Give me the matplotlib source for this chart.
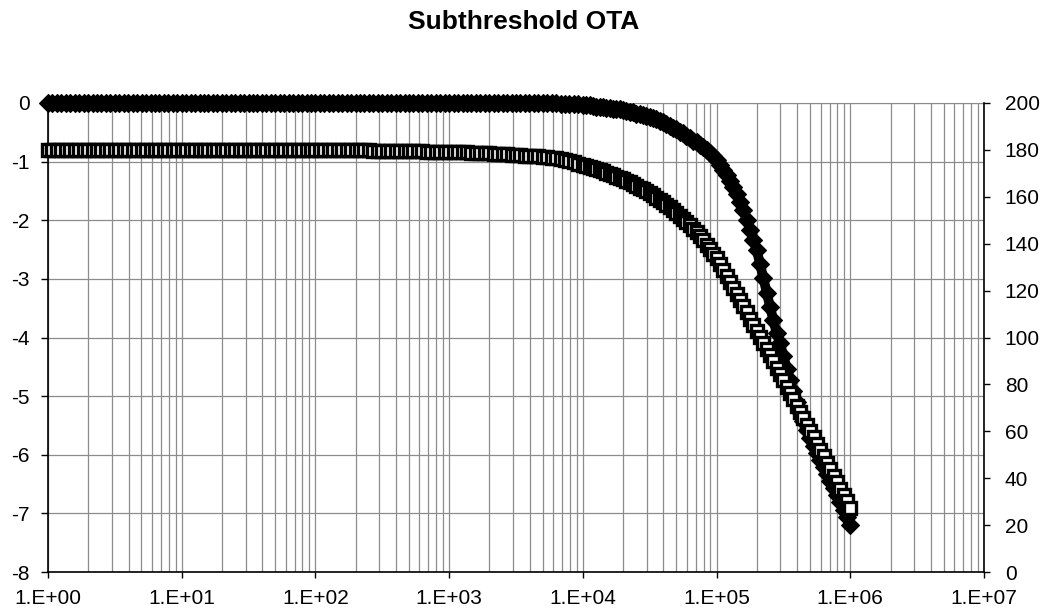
import matplotlib
matplotlib.use("Agg")
import matplotlib.pyplot as plt
from matplotlib.ticker import LogLocator, NullFormatter, FixedLocator, FixedFormatter

plt.rcParams["font.family"] = ["Liberation Sans", "DejaVu Sans"]

# frequency points (Hz)
freq = [
    1.000, 1.080, 1.166, 1.259, 1.359, 1.468, 1.585, 1.711, 1.848, 1.995,
    2.154, 2.326, 2.512, 2.712, 2.929, 3.162, 3.415, 3.687, 3.981, 4.299,
    4.642, 5.012, 5.412, 5.843, 6.310, 6.813, 7.356, 7.943, 8.577, 9.261,
    10.00, 10.80, 11.66, 12.59, 13.59, 14.68, 15.85, 17.11, 18.48, 19.95,
    21.54, 23.26, 25.12, 27.12, 29.29, 31.62, 34.15, 36.87, 39.81, 42.99,
    46.42, 50.12, 54.12, 58.43, 63.10, 68.13, 73.56, 79.43, 85.77, 92.61,
    100.0, 108.0, 116.6, 125.9, 135.9, 146.8, 158.5, 171.1, 184.8, 199.5,
    215.4, 232.6, 251.2, 271.2, 292.9, 316.2, 341.5, 368.7, 398.1, 429.9,
    464.2, 501.2, 541.2, 584.3, 631.0, 681.3, 735.6, 794.3, 857.7, 926.1,
    1000, 1080, 1166, 1259, 1359, 1468, 1585, 1711, 1848, 1995,
    2154, 2326, 2512, 2712, 2929, 3162, 3415, 3687, 3981, 4299,
    4642, 5012, 5412, 5843, 6310, 6813, 7356, 7943, 8577, 9261,
    10000, 10590, 11220, 11890, 12590, 13340, 14130, 14960, 15850, 16790,
    17780, 18840, 19950, 21130, 22390, 23710, 25120, 26610, 28180, 29850,
    31620, 33500, 35480, 37580, 39810, 42170, 44670, 47320, 50120, 53090,
    56230, 59570, 63100, 66830, 70790, 74990, 79430, 84140, 89130, 94410,
    100000, 105900, 112200, 118900, 125900, 133400, 141300, 149600, 158500, 167900,
    177800, 188400, 199500, 211300, 223900, 237100, 251200, 266100, 281800, 298500,
    316200, 335000, 354800, 375800, 398100, 421700, 446700, 473200, 501200, 530900,
    562300, 595700, 631000, 668300, 707900, 749900, 794300, 841400, 891300, 944100,
    1000000,
]

# left axis series (filled diamonds)
gain = [
    0.0, 0.0, 0.0, 0.0, 0.0, 0.0, 0.0, 0.0, 0.0, 0.0,
    0.0, 0.0, 0.0, 0.0, 0.0, 0.0, 0.0, 0.0, 0.0, 0.0,
    0.0, 0.0, 0.0, 0.0, 0.0, 0.0, 0.0, 0.0, 0.0, 0.0,
    0.0, 0.0, 0.0, 0.0, 0.0, 0.0, 0.0, 0.0, 0.0, 0.0,
    0.0, 0.0, 0.0, 0.0, 0.0, 0.0, 0.0, 0.0, 0.0, 0.0,
    0.0, 0.0, 0.0, 0.0, 0.0, 0.0, 0.0, 0.0, 0.0, 0.0,
    0.0, 0.0, 0.0, 0.0, 0.0, 0.0, 0.0, 0.0, 0.0, 0.0,
    0.0, 0.0, 0.0, 0.0, 0.0, 0.0, 0.0, 0.0, 0.0, 0.0,
    0.0, 0.0, 0.0, 0.0, 0.0, 0.0, 0.0, 0.0, 0.0, 0.0,
    0.0, 0.0, 0.0, 0.0, 0.0, 0.0, 0.0, 0.0, 0.0, 0.0,
    0.0, 0.0, 0.0, 0.0, 0.0, 0.0, 0.0, 0.0, 0.0, 0.0,
    0.0, 0.0, 0.0, 0.0, 0.0, -0.01, -0.01, -0.01, -0.02, -0.02,
    -0.03, -0.04, -0.04, -0.05, -0.06, -0.07, -0.07, -0.08, -0.09, -0.10,
    -0.10, -0.11, -0.12, -0.14, -0.15, -0.16, -0.18, -0.19, -0.21, -0.22,
    -0.24, -0.26, -0.28, -0.31, -0.33, -0.36, -0.39, -0.42, -0.45, -0.49,
    -0.52, -0.56, -0.60, -0.64, -0.67, -0.71, -0.75, -0.80, -0.85, -0.91,
    -0.97, -1.05, -1.14, -1.23, -1.33, -1.44, -1.56, -1.69, -1.83, -1.99,
    -2.16, -2.33, -2.51, -2.74, -2.99, -3.24, -3.48, -3.71, -3.93, -4.10,
    -4.32, -4.53, -4.73, -4.92, -5.10, -5.27, -5.43, -5.58, -5.72, -5.85,
    -5.97, -6.09, -6.21, -6.33, -6.45, -6.57, -6.69, -6.81, -6.94, -7.07,
    -7.20,
]

# right axis series (open squares)
phase = [
    180.0, 180.0, 180.0, 180.0, 180.0, 180.0, 180.0, 180.0, 180.0, 180.0,
    180.0, 180.0, 180.0, 180.0, 180.0, 180.0, 180.0, 180.0, 180.0, 180.0,
    180.0, 180.0, 180.0, 180.0, 180.0, 180.0, 180.0, 180.0, 180.0, 180.0,
    180.0, 180.0, 180.0, 180.0, 180.0, 180.0, 180.0, 180.0, 180.0, 180.0,
    180.0, 180.0, 180.0, 180.0, 180.0, 180.0, 180.0, 180.0, 180.0, 180.0,
    180.0, 180.0, 180.0, 180.0, 180.0, 180.0, 180.0, 180.0, 180.0, 180.0,
    180.0, 180.0, 179.9, 179.9, 179.9, 179.9, 179.9, 179.8, 179.8, 179.8,
    179.8, 179.8, 179.8, 179.7, 179.7, 179.7, 179.7, 179.6, 179.6, 179.6,
    179.6, 179.5, 179.5, 179.4, 179.4, 179.3, 179.3, 179.2, 179.2, 179.1,
    179.1, 179.0, 179.0, 178.9, 178.9, 178.8, 178.7, 178.6, 178.6, 178.5,
    178.4, 178.3, 178.2, 178.1, 178.0, 177.9, 177.8, 177.6, 177.5, 177.3,
    177.2, 177.0, 176.9, 176.6, 176.4, 176.0, 175.6, 175.2, 174.7, 174.2,
    173.6, 173.1, 172.7, 172.2, 171.8, 171.3, 170.8, 170.2, 169.7, 169.2,
    168.6, 168.0, 167.4, 166.7, 166.1, 165.4, 164.7, 163.9, 163.2, 162.3,
    161.5, 160.6, 159.7, 158.7, 157.7, 156.6, 155.6, 154.4, 153.2, 151.9,
    150.5, 149.2, 147.8, 146.3, 144.8, 143.1, 141.4, 139.6, 137.7, 135.8,
    134.0, 131.5, 128.9, 126.3, 123.7, 121.1, 118.5, 115.9, 113.3, 110.7,
    108.1, 105.5, 102.9, 100.3, 97.7, 95.1, 92.5, 89.8, 87.1, 84.4,
    81.7, 79.0, 76.3, 73.6, 70.9, 68.2, 65.5, 62.8, 60.1, 57.4,
    54.7, 52.0, 49.3, 46.6, 43.9, 41.1, 38.4, 35.6, 32.9, 30.2,
    27.5,
]

x_ticks = [1, 10, 100, 1000, 10000, 100000, 1000000, 10000000]
x_labels = ["1.E+00", "1.E+01", "1.E+02", "1.E+03", "1.E+04", "1.E+05", "1.E+06", "1.E+07"]
left_ticks = [-8, -7, -6, -5, -4, -3, -2, -1, 0]
right_ticks = [0, 20, 40, 60, 80, 100, 120, 140, 160, 180, 200]

grid_col = "#8c8c8c"

fig = plt.figure(figsize=(10.42, 6.12), dpi=100)
ax = fig.add_axes([48 / 1042, 1 - 572 / 612, (984 - 48) / 1042, (572 - 103) / 612])

ax.set_xscale("log")
ax.set_xlim(1, 1e7)
ax.set_ylim(-8, 0)
ax.xaxis.set_major_locator(FixedLocator(x_ticks))
ax.xaxis.set_major_formatter(FixedFormatter(x_labels))
ax.xaxis.set_minor_locator(LogLocator(base=10, subs=range(2, 10), numticks=100))
ax.xaxis.set_minor_formatter(NullFormatter())
ax.set_yticks(left_ticks)
ax.set_yticklabels([str(v) for v in left_ticks])

ax.grid(which="both", axis="x", color=grid_col, lw=0.9)
ax.grid(which="major", axis="y", color=grid_col, lw=0.9)
ax.set_axisbelow(True)

ax.tick_params(axis="y", which="major", direction="out", length=5, width=1, labelsize=15, pad=8)
ax.tick_params(axis="x", which="major", direction="out", length=4, width=1, labelsize=15, pad=8)
ax.tick_params(axis="x", which="minor", length=0)

for side in ["left", "bottom"]:
    ax.spines[side].set_color("black")
    ax.spines[side].set_linewidth(1.2)
ax.spines["top"].set_color(grid_col)
ax.spines["right"].set_visible(False)

ax.plot(freq, gain, color="black", lw=7, marker="D", ms=9, mfc="black", mec="black",
        mew=0.8, solid_capstyle="butt", clip_on=False, zorder=3)

ax2 = ax.twinx()
ax2.set_ylim(0, 200)
ax2.set_yticks(right_ticks)
ax2.set_yticklabels([str(v) for v in right_ticks])
ax2.tick_params(axis="y", direction="out", length=4, width=1, labelsize=15, pad=11)
ax2.spines["right"].set_color("black")
ax2.spines["right"].set_linewidth(1.2)
for side in ["left", "top", "bottom"]:
    ax2.spines[side].set_visible(False)

ax2.plot(freq, phase, color="black", lw=7, marker="s", ms=8.5, mfc="white", mec="black",
         mew=2.4, solid_capstyle="butt", clip_on=False, zorder=3)

fig.text(524 / 1042, 1 - 22 / 612, "Subthreshold OTA", ha="center", va="center",
         fontsize=19, fontweight="bold")

fig.savefig("out.png", dpi=100, facecolor="white")
